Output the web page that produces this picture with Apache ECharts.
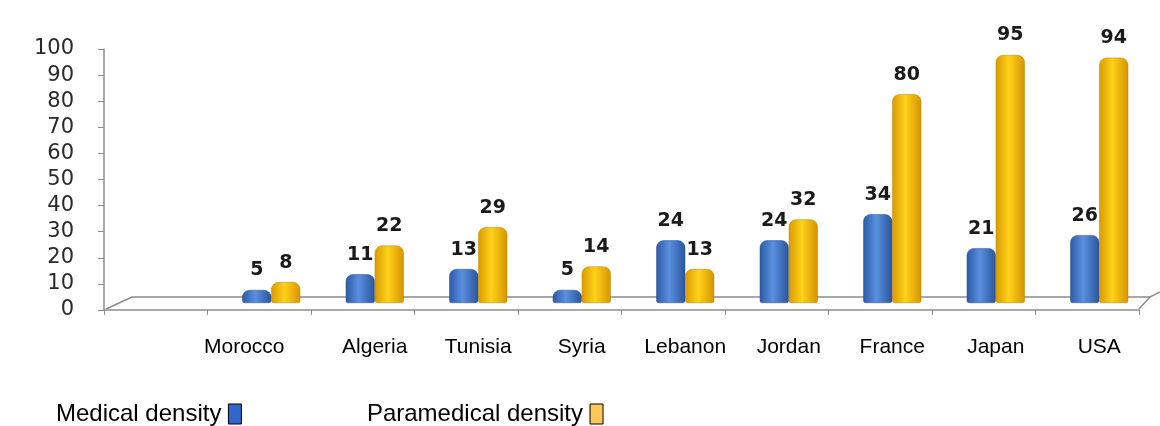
<!DOCTYPE html>
<html>
<head>
<meta charset="utf-8">
<script src="https://cdn.jsdelivr.net/npm/echarts@6/dist/echarts.min.js"></script>
<style>
html,body{margin:0;padding:0;background:#fff;}
#c{width:1160px;height:426px;}
</style>
</head>
<body>
<div id="c"></div>
<script>
const categories = ['', 'Morocco', 'Algeria', 'Tunisia', 'Syria', 'Lebanon', 'Jordan', 'France', 'Japan', 'USA'];
const medical = [null, 5, 11, 13, 5, 24, 24, 34, 21, 26];
const paramedical = [null, 8, 22, 29, 14, 13, 32, 80, 95, 94];
const yTicks = { min: 0, max: 100, interval: 10 };

const chart = echarts.init(document.getElementById('c'), null, { renderer: 'canvas' });

const blueGrad = new echarts.graphic.LinearGradient(0, 0, 1, 0, [
  { offset: 0, color: '#2d5aa6' },
  { offset: 0.45, color: '#5a8fe0' },
  { offset: 1, color: '#2a559c' }
]);
const yellowGrad = new echarts.graphic.LinearGradient(0, 0, 1, 0, [
  { offset: 0, color: '#d99a00' },
  { offset: 0.45, color: '#ffd21a' },
  { offset: 1, color: '#d69400' }
]);

const labelStyle = {
  show: true,
  position: 'top',
  distance: 10,
  fontFamily: 'DejaVu Sans',
  fontWeight: 'bold',
  fontSize: 19,
  color: '#1a1a1a'
};

chart.setOption({
  animation: false,
  backgroundColor: '#ffffff',
  legend: {
    data: [
      { name: 'Medical density', itemStyle: { color: '#3366cc', borderColor: '#000', borderWidth: 1 } },
      { name: 'Paramedical density', itemStyle: { color: '#ffc65a', borderColor: '#000', borderWidth: 1 } }
    ],
    left: 51,
    top: 397,
    align: 'right',
    icon: 'rect',
    itemWidth: 13,
    itemHeight: 20,
    itemGap: 125,
    textStyle: { fontFamily: 'Liberation Sans', fontSize: 24, color: '#000', padding: [0, 2, 0, 0] }
  },
  grid: [
    { left: 104, right: 21, top: 49, bottom: 116, containLabel: false },
    { left: 116, right: 9, top: 42, bottom: 123, containLabel: false }
  ],
  xAxis: [
    {
      type: 'category', gridIndex: 0, data: categories,
      axisLine: { show: true, lineStyle: { color: '#8c8c8c', width: 1.5 } },
      axisTick: { show: true, length: 5, lineStyle: { color: '#8c8c8c' } },
      axisLabel: { show: false }
    },
    {
      type: 'category', gridIndex: 1, data: categories,
      axisLine: { show: false }, axisTick: { show: false },
      axisLabel: {
        show: true, interval: 0, hideOverlap: false, margin: 34,
        fontFamily: 'Liberation Sans', fontSize: 21, color: '#000',
        formatter: function (v) { return v === 'Morocco' ? '{m|' + v + '}' : v; },
        rich: { m: { fontFamily: 'Liberation Sans', fontSize: 21, color: '#000', padding: [0, 54, 0, 0] } }
      }
    }
  ],
  yAxis: [
    {
      type: 'value', gridIndex: 0, min: yTicks.min, max: yTicks.max, interval: yTicks.interval,
      axisLine: { show: true, lineStyle: { color: '#8c8c8c', width: 1.5 } },
      axisTick: { show: true, length: 6, lineStyle: { color: '#8c8c8c' } },
      splitLine: { show: false },
      axisLabel: { margin: 30, fontFamily: 'DejaVu Sans', fontSize: 21, color: '#2a2a2a' }
    },
    {
      type: 'value', gridIndex: 1, min: yTicks.min, max: yTicks.max, interval: yTicks.interval,
      show: false, splitLine: { show: false }
    }
  ],
  graphic: [
    {
      type: 'polyline', z: 0, silent: true,
      shape: { points: [[106, 309], [132, 297], [1150, 297], [1160, 292]] },
      style: { stroke: '#8c8c8c', lineWidth: 1.5, fill: null }
    },
    {
      type: 'line', z: 0, silent: true,
      shape: { x1: 1139, y1: 309, x2: 1150, y2: 297 },
      style: { stroke: '#8c8c8c', lineWidth: 1.5 }
    }
  ],
  series: [
    {
      name: 'Medical density', type: 'bar', xAxisIndex: 1, yAxisIndex: 1,
      data: medical, barWidth: 29, barGap: '0%',
      itemStyle: { color: blueGrad, borderRadius: [7, 7, 2, 2], borderColor: '#2a4f8f', borderWidth: 0.5 },
      label: labelStyle, z: 3
    },
    {
      name: 'Paramedical density', type: 'bar', xAxisIndex: 1, yAxisIndex: 1,
      data: paramedical, barWidth: 29, barGap: '0%',
      itemStyle: { color: yellowGrad, borderRadius: [7, 7, 2, 2], borderColor: '#b98600', borderWidth: 0.5 },
      label: labelStyle, z: 3
    }
  ]
});
</script>
</body>
</html>
